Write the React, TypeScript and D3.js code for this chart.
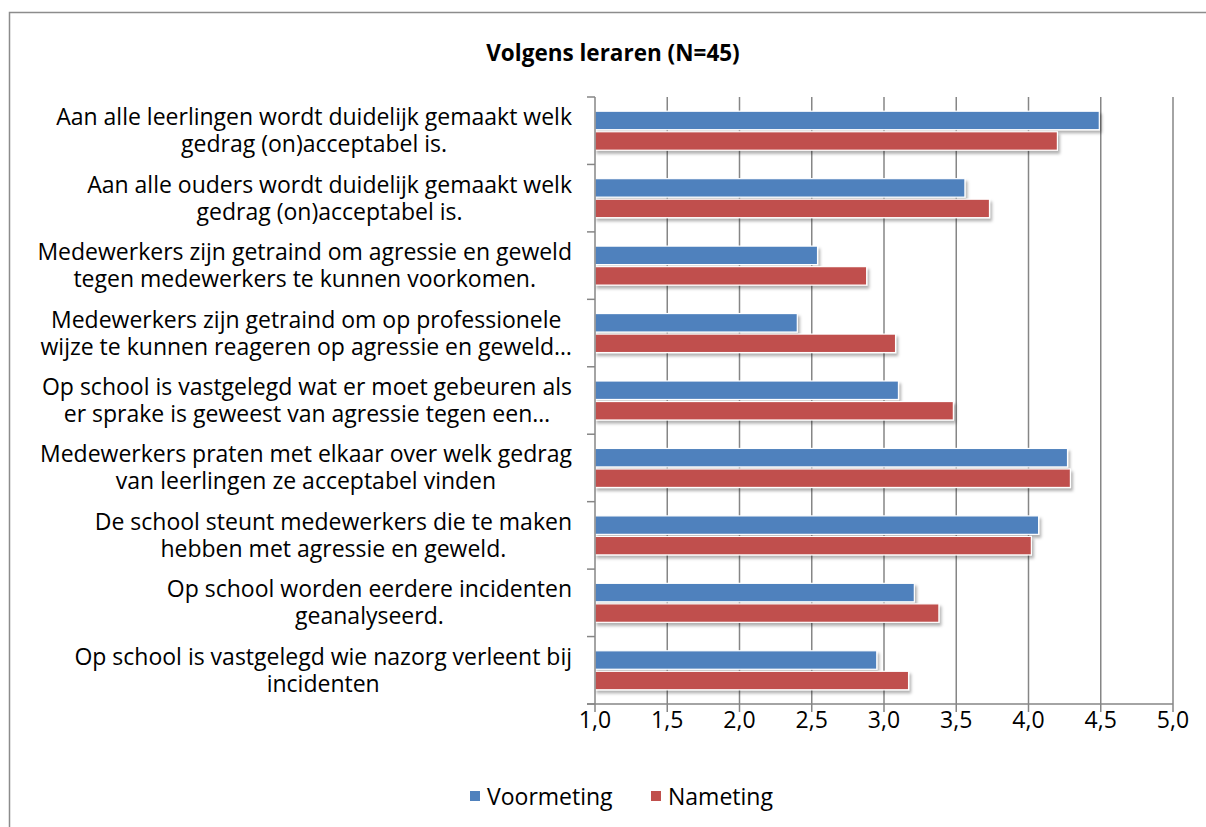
import { useEffect, useRef } from "react";
import * as d3 from "d3";

const WIDTH = 1206;
const HEIGHT = 827;

const categories = [
  ["Aan alle leerlingen wordt duidelijk gemaakt welk", "gedrag (on)acceptabel is."],
  ["Aan alle ouders wordt duidelijk gemaakt welk", "gedrag (on)acceptabel is."],
  ["Medewerkers zijn getraind om agressie en geweld", "tegen medewerkers te kunnen voorkomen."],
  ["Medewerkers zijn getraind om op professionele", "wijze te kunnen reageren op agressie en geweld…"],
  ["Op school is vastgelegd wat er moet gebeuren als", "er sprake is geweest van agressie tegen een…"],
  ["Medewerkers praten met elkaar over welk gedrag", "van leerlingen ze acceptabel vinden"],
  ["De school steunt medewerkers die te maken", "hebben met agressie en geweld."],
  ["Op school worden eerdere incidenten", "geanalyseerd."],
  ["Op school is vastgelegd wie nazorg verleent bij", "incidenten"],
];

const voormeting = [4.49, 3.56, 2.54, 2.4, 3.1, 4.27, 4.07, 3.21, 2.95];
const nameting = [4.2, 3.73, 2.88, 3.08, 3.48, 4.29, 4.02, 3.38, 3.17];

const seriesNames = ["Voormeting", "Nameting"];
const seriesColors = ["#4f81bd", "#c0504d"];
const xTicks = [1, 1.5, 2, 2.5, 3, 3.5, 4, 4.5, 5];

const FONT = "'Open Sans', Lato, sans-serif";
const FS = 23;

export default function App() {
  const ref = useRef<SVGSVGElement>(null);

  useEffect(() => {
    const svg = d3.select(ref.current);
    svg.selectAll("*").remove();

    const left = 595;
    const right = 1173;
    const top = 97;
    const bottom = 704;

    const x = d3.scaleLinear().domain([1, 5]).range([left, right]);
    const y = d3
      .scaleBand<number>()
      .domain(d3.range(categories.length))
      .range([top, bottom]);
    const bw = y.bandwidth();
    const sub = d3
      .scaleBand<number>()
      .domain([0, 1])
      .range([bw / 2 - 19.5, bw / 2 + 19.5])
      .paddingInner(0.1);

    const defs = svg.append("defs");
    const f = defs
      .append("filter")
      .attr("id", "shadow")
      .attr("x", "-5%")
      .attr("y", "-30%")
      .attr("width", "115%")
      .attr("height", "190%");
    f.append("feDropShadow")
      .attr("dx", 2)
      .attr("dy", 3)
      .attr("stdDeviation", 1.8)
      .attr("flood-color", "#000")
      .attr("flood-opacity", 0.3);

    // frame
    svg
      .append("rect")
      .attr("x", 9.5)
      .attr("y", 12.5)
      .attr("width", WIDTH)
      .attr("height", HEIGHT)
      .attr("fill", "#fff")
      .attr("stroke", "#8c8c8c")
      .attr("stroke-width", 1.5);

    // title
    svg
      .append("text")
      .attr("x", 613)
      .attr("y", 52)
      .attr("text-anchor", "middle")
      .attr("dominant-baseline", "central")
      .attr("font-family", FONT)
      .attr("font-weight", "bold")
      .attr("font-size", 22.5)
      .text("Volgens leraren (N=45)");

    // grid
    svg
      .append("g")
      .selectAll("line")
      .data(xTicks.slice(1))
      .join("line")
      .attr("x1", (d) => x(d))
      .attr("x2", (d) => x(d))
      .attr("y1", top)
      .attr("y2", bottom)
      .attr("stroke", "#868686")
      .attr("stroke-width", 1.5);

    // bars
    const data = categories.map((_, i) => [voormeting[i], nameting[i]]);
    const groups = svg
      .append("g")
      .selectAll("g")
      .data(data)
      .join("g")
      .attr("transform", (_, i) => `translate(0,${y(i)})`);
    groups
      .selectAll("rect")
      .data((d) => d)
      .join("rect")
      .attr("x", x(1))
      .attr("y", (_, j) => sub(j)!)
      .attr("width", (d) => x(d) - x(1))
      .attr("height", sub.bandwidth())
      .attr("fill", (_, j) => seriesColors[j])
      .attr("stroke", "#fff")
      .attr("stroke-width", 1.2)
      .attr("filter", "url(#shadow)");

    // axes
    const ax = svg.append("g").attr("stroke", "#868686").attr("stroke-width", 1.5);
    ax.append("line").attr("x1", left).attr("x2", left).attr("y1", top).attr("y2", bottom);
    ax.append("line").attr("x1", left - 8).attr("x2", right).attr("y1", bottom).attr("y2", bottom);
    ax.selectAll(".yt")
      .data(d3.range(categories.length + 1))
      .join("line")
      .attr("class", "yt")
      .attr("x1", left - 8)
      .attr("x2", left)
      .attr("y1", (i) => top + i * bw)
      .attr("y2", (i) => top + i * bw);
    ax.selectAll(".xt")
      .data(xTicks)
      .join("line")
      .attr("class", "xt")
      .attr("x1", (d) => x(d))
      .attr("x2", (d) => x(d))
      .attr("y1", bottom)
      .attr("y2", bottom + 8);

    const fmt = (d: number) => d.toFixed(1).replace(".", ",");
    svg
      .append("g")
      .selectAll("text")
      .data(xTicks)
      .join("text")
      .attr("x", (d) => x(d))
      .attr("y", 719)
      .attr("text-anchor", "middle")
      .attr("dominant-baseline", "central")
      .attr("font-family", FONT)
      .attr("font-size", FS)
      .text(fmt);

    // category labels: one text per category, lines centred, block right-aligned
    const labelRight = 572;
    categories.forEach((lines, i) => {
      const cy = y(i)! + bw / 2 - 1;
      const text = svg
        .append("text")
        .attr("text-anchor", "middle")
        .attr("dominant-baseline", "central")
        .attr("font-family", FONT)
        .attr("font-size", FS);
      const spans = lines.map((line, k) =>
        text
          .append("tspan")
          .attr("y", cy + (k - (lines.length - 1) / 2) * 27)
          .attr("dominant-baseline", "central")
          .text(line)
      );
      const maxW =
        d3.max(spans, (s) => (s.node() as SVGTSpanElement).getComputedTextLength()) || 0;
      spans.forEach((s) => s.attr("x", labelRight - maxW / 2));
    });

    // legend
    const legendX = [470, 651];
    const lg = svg.append("g");
    seriesNames.forEach((name, j) => {
      lg.append("rect")
        .attr("x", legendX[j])
        .attr("y", 791)
        .attr("width", 10)
        .attr("height", 10)
        .attr("fill", seriesColors[j]);
      lg.append("text")
        .attr("x", legendX[j] + 17)
        .attr("y", 796)
        .attr("dominant-baseline", "central")
        .attr("font-family", FONT)
        .attr("font-size", FS)
        .text(name);
    });
  }, []);

  return (
    <svg
      ref={ref}
      width={WIDTH}
      height={HEIGHT}
      style={{ position: "absolute", left: 0, top: 0, background: "#fff" }}
    />
  );
}
